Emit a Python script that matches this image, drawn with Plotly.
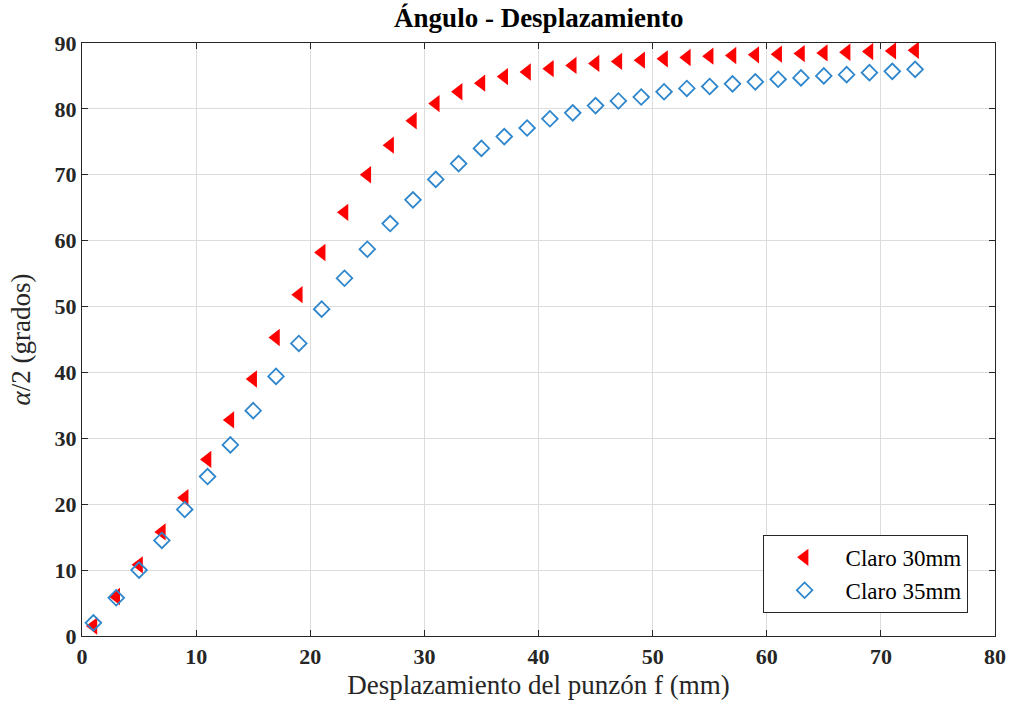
import plotly.graph_objects as go

# Punch displacement f (mm)
desplazamiento = [1, 3, 5, 7, 9, 11, 13, 15, 17, 19, 21, 23, 25, 27, 29, 31, 33, 35, 37,
                  39, 41, 43, 45, 47, 49, 51, 53, 55, 57, 59, 61, 63, 65, 67, 69, 71, 73]

# Half bend angle alpha/2 (degrees) for each die opening
angulo_30mm = [1.5, 6.0, 10.8, 15.8, 21.0, 26.8, 32.8, 39.0, 45.3, 51.8, 58.2, 64.3, 70.0,
               74.5, 78.2, 80.8, 82.6, 83.9, 84.9, 85.6, 86.1, 86.6, 86.9, 87.2, 87.4, 87.6,
               87.8, 88.0, 88.1, 88.2, 88.3, 88.4, 88.5, 88.6, 88.7, 88.8, 88.9]
angulo_35mm = [2.0, 5.8, 10.0, 14.5, 19.2, 24.2, 29.0, 34.2, 39.4, 44.4, 49.6, 54.3, 58.7,
               62.6, 66.2, 69.3, 71.7, 74.0, 75.8, 77.1, 78.5, 79.4, 80.5, 81.2, 81.8, 82.6,
               83.1, 83.4, 83.8, 84.1, 84.5, 84.7, 85.0, 85.2, 85.5, 85.7, 86.0]

serif = "Liberation Serif, Times New Roman, serif"

fig = go.Figure()
fig.add_trace(go.Scatter(
    x=desplazamiento, y=angulo_30mm, mode="markers", name="Claro 30mm",
    marker=dict(symbol="triangle-left", size=15, color="#FF0000",
                line=dict(width=0)),
))
fig.add_trace(go.Scatter(
    x=desplazamiento, y=angulo_35mm, mode="markers", name="Claro 35mm",
    marker=dict(symbol="diamond-open", size=12, color="#2E86CC",
                line=dict(width=1.8, color="#2E86CC")),
))

axis_common = dict(
    showline=True, linecolor="#262626", linewidth=1.2, mirror="ticks",
    ticks="inside", ticklen=6, tickcolor="#262626", tickwidth=1,
    showgrid=True, gridcolor="#DCDCDC", gridwidth=1, zeroline=False,
    automargin=False,
    tickfont=dict(family=serif, size=22, color="#262626", weight="bold"),
)

fig.update_layout(
    width=1011, height=708,
    margin=dict(l=82, r=16, t=43, b=72),
    paper_bgcolor="white", plot_bgcolor="white",
    title=dict(text="<b>Ángulo - Desplazamiento</b>", x=0.533, xanchor="center",
               y=0.989, yanchor="top",
               font=dict(family=serif, size=27, color="#000000")),
    xaxis=dict(range=[0, 80], dtick=10, **axis_common,
               title=dict(text="Desplazamiento del punzón f (mm)", standoff=7,
                          font=dict(family=serif, size=27, color="#262626"))),
    yaxis=dict(range=[0, 90], dtick=10, **axis_common,
               title=dict(text="<i>α</i>/2 (grados)", standoff=16,
                          font=dict(family=serif, size=27, color="#262626"))),
    legend=dict(x=0.970, y=0.039, xanchor="right", yanchor="bottom",
                bgcolor="white", bordercolor="#262626", borderwidth=1,
                font=dict(family=serif, size=23, color="#000000"),
                itemwidth=72, tracegroupgap=0),
    showlegend=True,
)

fig.write_html("out.html")
